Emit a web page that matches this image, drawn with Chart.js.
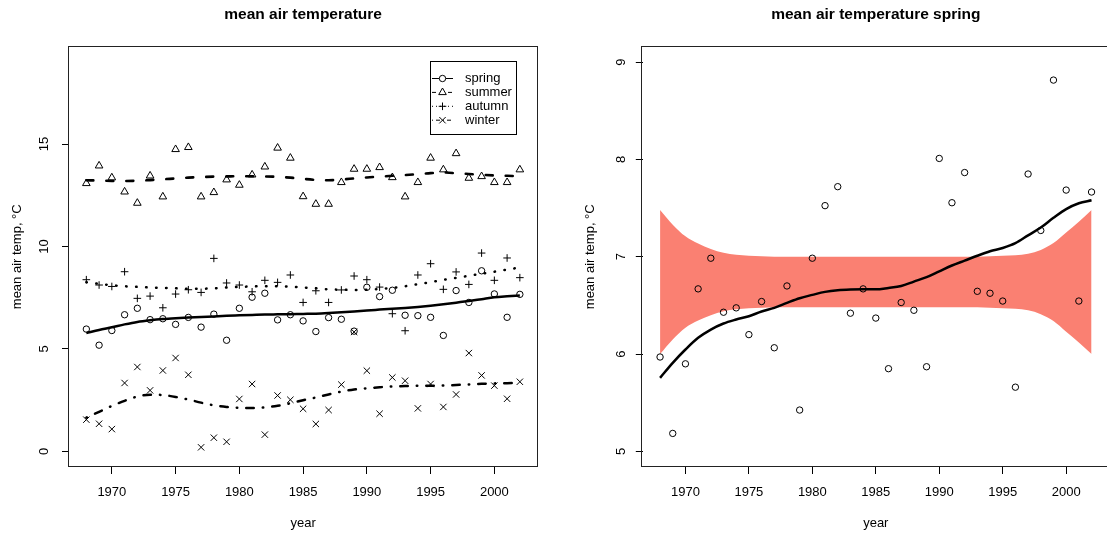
<!DOCTYPE html>
<html><head><meta charset="utf-8">
<script src="https://cdn.jsdelivr.net/npm/chart.js@4/dist/chart.umd.min.js"></script>
<style>
html,body{margin:0;padding:0;background:#fff;overflow:hidden;width:1107px;height:539px;position:relative;}
#w1{position:absolute;left:0;top:0;width:553px;height:539px;}
#w2{position:absolute;left:553px;top:0;width:560px;height:539px;}
canvas{display:block;}
</style></head><body>
<div id="w1"><canvas id="c1" width="553" height="539" style="width:553px;height:539px"></canvas></div>
<div id="w2"><canvas id="c2" width="560" height="539" style="width:560px;height:539px"></canvas></div>
<script>
const FONT = "'Liberation Sans', Arial, Helvetica, sans-serif";

const years = [1968,1969,1970,1971,1972,1973,1974,1975,1976,1977,1978,1979,1980,1981,1982,1983,1984,1985,
               1986,1987,1988,1989,1990,1991,1992,1993,1994,1995,1996,1997,1998,1999,2000,2001,2002];

const spring = [5.97,5.185,5.90,6.67,6.985,6.43,6.475,6.20,6.54,6.065,6.70,5.425,6.985,7.525,7.72,6.42,6.67,6.37,
                5.85,6.53,6.45,5.87,8.01,7.555,7.865,6.645,6.625,6.545,5.66,7.85,7.27,8.815,7.685,6.545,7.665];
const summer = [13.08,13.94,13.36,12.67,12.12,13.45,12.43,14.74,14.84,12.43,12.64,13.26,13.0,13.5,13.89,14.81,14.32,12.44,
                12.07,12.07,13.13,13.78,13.78,13.86,13.37,12.43,13.13,14.32,13.75,14.54,13.34,13.42,13.13,13.13,13.75];
const autumn = [8.38,8.12,8.05,8.77,7.47,7.58,7.01,7.68,7.89,7.76,9.42,8.22,8.12,7.79,8.35,8.25,8.61,7.27,
                7.84,7.27,7.88,8.56,8.38,8.02,6.72,5.89,8.61,9.16,7.91,8.76,8.15,9.68,8.35,9.44,8.48];
const winter = [1.55,1.35,1.09,3.34,4.12,2.98,3.95,4.56,3.74,0.2,0.67,0.47,2.56,3.29,0.82,2.73,2.52,2.08,
                1.34,2.02,3.26,5.83,3.94,1.84,3.61,3.45,2.1,3.29,2.17,2.78,4.8,3.71,3.21,2.57,3.4];

// smoothed curves (left panel)
const springSmooth = [5.78,5.93,6.06,6.2,6.32,6.4,6.46,6.5,6.53,6.56,6.59,6.62,6.64,6.66,6.68,6.69,6.7,6.71,
                      6.72,6.75,6.79,6.83,6.88,6.92,6.96,7.0,7.05,7.11,7.18,7.26,7.34,7.43,7.52,7.57,7.61];
const summerSmooth = [13.23,13.22,13.2,13.2,13.21,13.24,13.28,13.32,13.36,13.39,13.41,13.42,13.43,13.43,13.42,13.4,13.36,13.3,
                      13.25,13.23,13.27,13.32,13.37,13.41,13.45,13.49,13.53,13.58,13.61,13.58,13.54,13.5,13.47,13.45,13.43];
const autumnSmooth = [8.26,8.18,8.11,8.06,8.03,8.0,7.98,7.96,7.94,7.94,7.96,8.0,8.03,8.05,8.06,8.06,8.04,8.0,
                      7.96,7.91,7.89,7.88,7.89,7.93,7.98,8.06,8.16,8.26,8.37,8.47,8.57,8.67,8.77,8.87,8.98];
const winterSmooth = [1.65,1.93,2.22,2.47,2.68,2.77,2.75,2.66,2.53,2.38,2.25,2.17,2.13,2.12,2.15,2.23,2.35,2.5,
                      2.63,2.78,2.92,3.02,3.08,3.13,3.17,3.19,3.2,3.2,3.22,3.24,3.27,3.3,3.32,3.33,3.34];

// right panel: smooth fit and reference band
const springFit = [5.756,5.91,6.047,6.167,6.252,6.314,6.355,6.389,6.437,6.475,6.526,6.574,6.608,6.639,6.656,6.663,6.665,6.665,
                   6.68,6.70,6.745,6.79,6.85,6.91,6.96,7.01,7.056,7.09,7.14,7.22,7.30,7.40,7.49,7.55,7.58];
const bandUpper = [7.48,7.33,7.21,7.135,7.08,7.04,7.02,7.01,7.005,7.0,7.0,7.0,7.0,7.0,7.0,7.0,7.0,7.0,
                   7.0,7.0,7.0,7.0,7.0,7.0,7.0,7.0,7.005,7.01,7.015,7.03,7.07,7.14,7.25,7.36,7.48];
const bandLower = [6.0,6.15,6.27,6.345,6.4,6.44,6.46,6.47,6.475,6.48,6.48,6.48,6.48,6.48,6.48,6.48,6.48,6.48,
                   6.48,6.48,6.48,6.48,6.48,6.48,6.48,6.48,6.475,6.47,6.465,6.45,6.41,6.34,6.23,6.12,6.0];

const xTicks = [1970,1975,1980,1985,1990,1995,2000];
const yTicksLeft = [0,5,10,15];
const yTicksRight = [5,6,7,8,9];
const legendLabels = ['spring','summer','autumn','winter'];
const titleLeft = 'mean air temperature';
const titleRight = 'mean air temperature spring';
const yTitle = 'mean air temp, \u00B0C';
const xTitle = 'year';

const pts = arr => arr.map((v,i)=>({x:years[i], y:v}));

function scatterDs(label, arr, style, radius){
  return {label, data:pts(arr), showLine:false, pointStyle:style, pointRadius:radius, pointHoverRadius:radius,
          pointBorderWidth:1, pointBorderColor:'#000', pointBackgroundColor:'rgba(0,0,0,0)', borderColor:'#000'};
}
function lineDs(label, arr, dash, width){
  return {label, data:pts(arr), showLine:true, pointRadius:0, pointHoverRadius:0, borderColor:'#000',
          borderWidth:width, borderDash:dash, borderCapStyle: dash.length ? 'round':'butt', tension:0.4,
          cubicInterpolationMode:'monotone', fill:false};
}

function xScale(){
  return {type:'linear', min:1966.64, max:2003.36,
    afterBuildTicks: s => { s.ticks = xTicks.map(v=>({value:v})); },
    afterFit: s => { s.height = 72; },
    grid:{drawOnChartArea:false, drawTicks:true, tickLength:7, color:'#000', lineWidth:1},
    border:{display:false},
    ticks:{padding:11, color:'#000', font:{family:FONT, size:13}, maxRotation:0, minRotation:0, autoSkip:false,
           callback: v => String(v)}};
}
function yScale(min, max, tickArr, width){
  return {type:'linear', min, max,
    afterBuildTicks: s => { s.ticks = tickArr.map(v=>({value:v})); },
    afterFit: s => { s.width = width; },
    grid:{drawOnChartArea:false, drawTicks:true, tickLength:7, color:'#000', lineWidth:1},
    border:{display:false},
    ticks:{display:false}};
}

function decoPlugin(cfg){
  return {id:'deco'+cfg.key, afterDraw(chart){
    const ctx = chart.ctx, ca = chart.chartArea, ys = chart.scales.y;
    ctx.save();
    ctx.strokeStyle = '#222'; ctx.lineWidth = 1; ctx.setLineDash([]);
    const l = Math.floor(ca.left)-0.5, t = Math.floor(ca.top)+0.5, r = Math.round(ca.right)+0.5, b = Math.round(ca.bottom)-0.5;
    ctx.strokeRect(l, t, r-l, b-t);
    ctx.fillStyle = '#000';
    ctx.font = '13px ' + FONT; ctx.textAlign='center'; ctx.textBaseline='middle';
    cfg.yTicks.forEach(v=>{
      const y = ys.getPixelForValue(v);
      ctx.save(); ctx.translate(cfg.yLabelX, y); ctx.rotate(-Math.PI/2); ctx.fillText(String(v),0,0); ctx.restore();
    });
    ctx.save(); ctx.translate(cfg.yTitleX, (ca.top+ca.bottom)/2); ctx.rotate(-Math.PI/2); ctx.fillText(yTitle,0,0); ctx.restore();
    const cx = (ca.left+ca.right)/2;
    ctx.fillText(xTitle, cx, 523.5);
    ctx.font = 'bold 15.5px ' + FONT;
    ctx.fillText(cfg.title, cx, 14.5);
    if (cfg.legend) drawLegend(ctx);
    ctx.restore();
  }};
}

function drawLegend(ctx){
  ctx.save();
  ctx.strokeStyle = '#000'; ctx.lineWidth = 1; ctx.setLineDash([]);
  ctx.strokeRect(430.5, 61.5, 86, 73);
  const dashes = [[], [4,4], [1,3], [1,3,4,3]];
  const styles = ['circle','triangle','cross','crossRot'];
  ctx.font = '13px ' + FONT; ctx.textAlign='left'; ctx.textBaseline='middle'; ctx.fillStyle='#000';
  legendLabels.forEach((lab,i)=>{
    const y = 78.5 + i*13.9;
    ctx.setLineDash(dashes[i]); ctx.lineWidth = 1; ctx.strokeStyle = '#000';
    ctx.beginPath(); ctx.moveTo(432, y); ctx.lineTo(453, y); ctx.stroke();
    ctx.setLineDash([]);
    ctx.fillStyle = '#fff';
    const rad = [3.2,4.4,3.8,4.5][i];
    ctx.strokeStyle = '#000'; ctx.lineWidth = 1;
    Chart.helpers.drawPoint(ctx, {pointStyle:styles[i], radius:rad, rotation:0, borderWidth:1}, 442.5, y);
    ctx.fillStyle = '#000';
    ctx.fillText(lab, 465, y);
  });
  ctx.restore();
}

const common = {responsive:false, animation:false, events:[],
  plugins:{legend:{display:false}, tooltip:{enabled:false}, title:{display:false}}};

new Chart(document.getElementById('c1'), {
  type:'line',
  data:{datasets:[
    lineDs('spring smooth', springSmooth, [], 2.5),
    lineDs('summer smooth', summerSmooth, [7,13], 2.6),
    lineDs('autumn smooth', autumnSmooth, [0.5,9.5], 2.5),
    lineDs('winter smooth', winterSmooth, [0.5,9,7.5,9], 2.5),
    scatterDs('spring', spring, 'circle', 3.2),
    scatterDs('summer', summer, 'triangle', 4.4),
    scatterDs('autumn', autumn, 'cross', 3.8),
    scatterDs('winter', winter, 'crossRot', 4.5)
  ]},
  options:Object.assign({}, common, {
    layout:{padding:{top:46.5, right:15.8, left:0, bottom:0}},
    scales:{x:xScale(), y:yScale(-0.76, 19.76, yTicksLeft, 69)}
  }),
  plugins:[decoPlugin({key:'L', yTicks:yTicksLeft, yLabelX:44, yTitleX:17, title:titleLeft, legend:true})]
});

new Chart(document.getElementById('c2'), {
  type:'line',
  data:{datasets:[
    scatterDs('spring', spring, 'circle', 3.2),
    lineDs('smooth', springFit, [], 2.5),
    {label:'band low', data:pts(bandLower), showLine:true, pointRadius:0, borderWidth:0, borderColor:'rgba(0,0,0,0)',
     backgroundColor:'#FA8072', fill:'+1', tension:0.4, cubicInterpolationMode:'monotone'},
    {label:'band high', data:pts(bandUpper), showLine:true, pointRadius:0, borderWidth:0, borderColor:'rgba(0,0,0,0)',
     fill:false, tension:0.4, cubicInterpolationMode:'monotone'}
  ]},
  options:Object.assign({}, common, {
    layout:{padding:{top:46.5, right:1.4, left:0, bottom:0}},
    scales:{x:xScale(), y:yScale(4.84, 9.16, yTicksRight, 89.8)}
  }),
  plugins:[decoPlugin({key:'R', yTicks:yTicksRight, yLabelX:68, yTitleX:37, title:titleRight, legend:false})]
});
</script>
</body></html>
